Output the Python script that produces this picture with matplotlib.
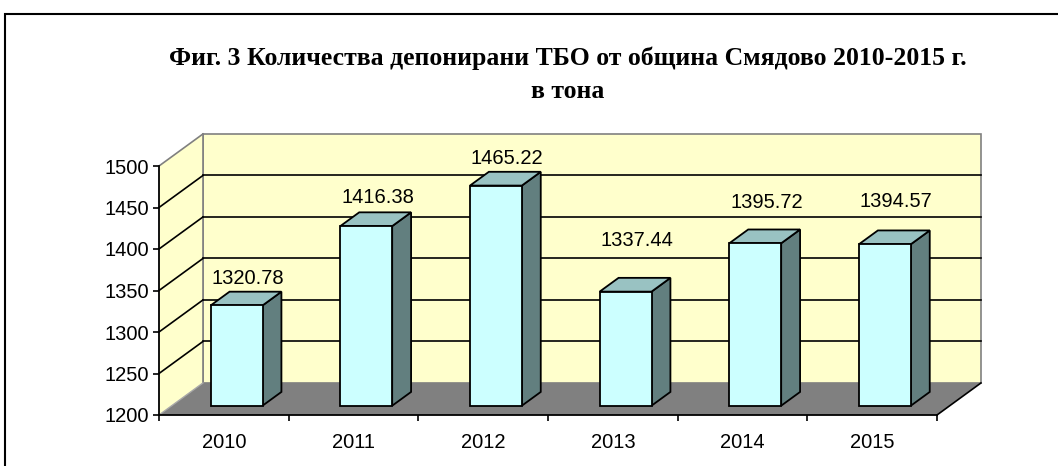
import matplotlib
matplotlib.use("Agg")
import matplotlib.pyplot as plt
from matplotlib.patches import Polygon, Rectangle
from matplotlib.lines import Line2D

# ---- data ----
years = ["2010", "2011", "2012", "2013", "2014", "2015"]
values = [1320.78, 1416.38, 1465.22, 1337.44, 1395.72, 1394.57]
y_ticks = [1200, 1250, 1300, 1350, 1400, 1450, 1500]
value_labels = ["1320.78", "1416.38", "1465.22", "1337.44", "1395.72", "1394.57"]
title_line1 = "Фиг. 3 Количества депонирани ТБО от община Смядово 2010-2015 г."
title_line2 = "в тона"

# ---- styling ----
W, H = 1058, 466
WALL = "#FFFFCC"
FLOOR = "#808080"
FRONT = "#CCFFFF"
TOP = "#99C2C2"
SIDE = "#627F7F"
EDGE_GREY = "#808080"
# gap (pixels) between each bar's back-top edge and its label baseline
label_gap_px = [8, 9, 8, 32, 21, 23]

fig = plt.figure(figsize=(W / 100, H / 100), dpi=100)
fig.patch.set_facecolor("white")

ax = fig.add_axes([159 / W, (H - 415) / H, (937 - 159) / W, (415 - 166) / H])
ymin, ymax = y_ticks[0], y_ticks[-1]
n = len(years)
x0, x1 = -0.5, n - 0.5
ax.set_xlim(x0, x1)
ax.set_ylim(ymin, ymax)
ax.patch.set_visible(False)

DX = 0.339   # depth shift in category units
DY = 38.6    # depth shift in value units
F1, F2 = 0.29, 0.72   # bar front / back depth fraction
BW = 0.40             # bar width in category units

kw = dict(clip_on=False)

# back wall
ax.add_patch(Rectangle((x0 + DX, ymin + DY), x1 - x0, ymax - ymin,
                       facecolor=WALL, edgecolor=EDGE_GREY, lw=1.2, zorder=1, **kw))
# left wall
ax.add_patch(Polygon([(x0, ymin), (x0 + DX, ymin + DY), (x0 + DX, ymax + DY), (x0, ymax)],
                     closed=True, facecolor=WALL, edgecolor="none", zorder=1, **kw))
ax.add_line(Line2D([x0, x0 + DX], [ymax, ymax + DY], color=EDGE_GREY, lw=1.2, zorder=2, **kw))
# floor
ax.add_patch(Polygon([(x0, ymin), (x1, ymin), (x1 + DX, ymin + DY), (x0 + DX, ymin + DY)],
                     closed=True, facecolor=FLOOR, edgecolor="none", zorder=2, **kw))
ax.add_line(Line2D([x0, x0 + DX], [ymin, ymin + DY], color="#A8A8A8", lw=1.0, zorder=3, **kw))
ax.add_line(Line2D([x1, x1 + DX], [ymin, ymin + DY], color="black", lw=1.2, zorder=3, **kw))
ax.add_line(Line2D([x0 + DX, x0 + DX], [ymin + DY, ymax + DY], color=EDGE_GREY, lw=1.2, zorder=2, **kw))

# gridlines
for t in y_ticks[1:-1]:
    ax.add_line(Line2D([x0 + DX, x1 + DX], [t + DY, t + DY], color="black", lw=1.2, zorder=2, **kw))
    ax.add_line(Line2D([x0, x0 + DX], [t, t + DY], color="black", lw=1.2, zorder=2, **kw))

# bars
for i, v in enumerate(values):
    l = i - BW / 2
    r = i + BW / 2
    fl, fr = l + F1 * DX, r + F1 * DX
    bl, br = l + F2 * DX, r + F2 * DX
    yb_f, yt_f = ymin + F1 * DY, v + F1 * DY
    yb_b, yt_b = ymin + F2 * DY, v + F2 * DY
    ax.add_patch(Polygon([(fr, yb_f), (br, yb_b), (br, yt_b), (fr, yt_f)], closed=True,
                         facecolor=SIDE, edgecolor="black", lw=1.3, zorder=5, **kw))
    ax.add_patch(Polygon([(fl, yt_f), (fr, yt_f), (br, yt_b), (bl, yt_b)], closed=True,
                         facecolor=TOP, edgecolor="black", lw=1.3, zorder=5, **kw))
    ax.add_patch(Rectangle((fl, yb_f), BW, v - ymin, facecolor=FRONT,
                           edgecolor="black", lw=1.3, zorder=6, **kw))
    ax.annotate(value_labels[i], xy=(i + 0.185, yt_b),
                xytext=(0, label_gap_px[i] * 0.72), textcoords="offset points",
                ha="center", va="baseline", fontsize=14.5, family="Liberation Sans",
                color="black", zorder=7, annotation_clip=False)

# axes / ticks
for s in ["top", "right"]:
    ax.spines[s].set_visible(False)
for s in ["left", "bottom"]:
    ax.spines[s].set_color("black")
    ax.spines[s].set_linewidth(1.3)
    ax.spines[s].set_zorder(8)

ax.set_yticks(y_ticks)
ax.set_yticklabels([str(t) for t in y_ticks], fontsize=14.5, family="Liberation Sans")
ax.tick_params(axis="y", direction="out", length=4, width=1.2, pad=3)

ax.set_xticks(range(n))
ax.set_xticklabels(years, fontsize=14.5, family="Liberation Sans")
ax.set_xticks([k - 0.5 for k in range(n + 1)], minor=True)
ax.tick_params(axis="x", which="major", length=0, pad=13)
ax.tick_params(axis="x", which="minor", direction="out", length=4, width=1.2)

# title
fig.text(568 / W, 1 - 58 / H, title_line1, ha="center", va="center",
         fontsize=18.5, fontweight="bold", family="Liberation Serif")
fig.text(568 / W, 1 - 92 / H, title_line2, ha="center", va="center",
         fontsize=18.5, fontweight="bold", family="Liberation Serif")

# outer frame
fig.patches.append(Rectangle((5 / W, -0.2), 1.2, 1.2 - 14 / H, transform=fig.transFigure,
                             facecolor="none", edgecolor="black", lw=1.5))

fig.savefig("out.png", dpi=100)
